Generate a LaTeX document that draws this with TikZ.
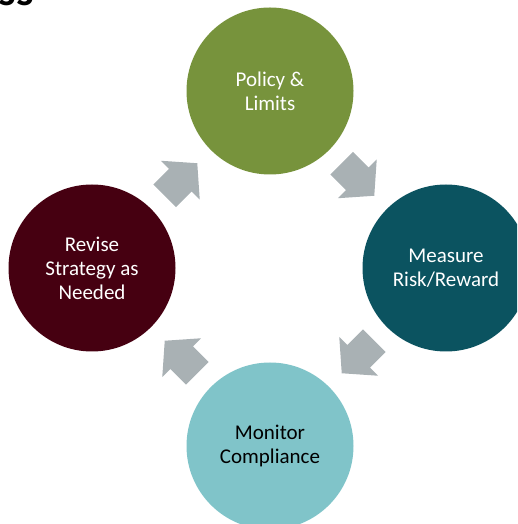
\documentclass[tikz,border=0pt]{standalone}
\usepackage{fontspec}
\setmainfont{Carlito}
\usetikzlibrary{calc}
\definecolor{cgreen}{RGB}{119,147,60}
\definecolor{cteal}{RGB}{11,83,96}
\definecolor{clight}{RGB}{128,196,201}
\definecolor{cmaroon}{RGB}{70,0,17}
\definecolor{arrowgray}{RGB}{169,177,180}
\newcommand\blockarrow[2]{%
  \fill[arrowgray, shift={(#1)}, rotate=#2]
    (-23,-16) -- (-1,-16) -- (-1,-27.5) -- (23,0) -- (-1,27.5) -- (-1,16) -- (-23,16) -- cycle;}
\begin{document}
\begin{tikzpicture}[x=1pt,y=1pt,
  stage/.style={circle, minimum size=167pt, inner sep=0pt, align=center,
    font=\fontsize{21}{24}\selectfont, text=white}]
\useasboundingbox (0,0) rectangle (517,524);
\clip (0,0) rectangle (517,524);
\node[anchor=base east, font=\bfseries\fontsize{44}{50}\selectfont] (title) at (37.5,518.5) {ss};
\node[stage, fill=cgreen] (top) at (270,433) {Policy \&\\Limits};
\node[stage, fill=cteal] (right) at (446,256) {Measure\\Risk/Reward};
\node[stage, fill=clight, text=black] (bottom) at (270,78) {Monitor\\Compliance};
\node[stage, fill=cmaroon] (left) at (92,256) {Revise\\Strategy as\\Needed};
\coordinate (a1) at ($(left)!0.5!(top)$);
\coordinate (a2) at ($(top)!0.5!(right)$);
\coordinate (a3) at ($(right)!0.5!(bottom)$);
\coordinate (a4) at ($(bottom)!0.5!(left)$);
\blockarrow{a1}{45}
\blockarrow{a2}{-45}
\blockarrow{a3}{-135}
\blockarrow{a4}{135}
\end{tikzpicture}
\end{document}
